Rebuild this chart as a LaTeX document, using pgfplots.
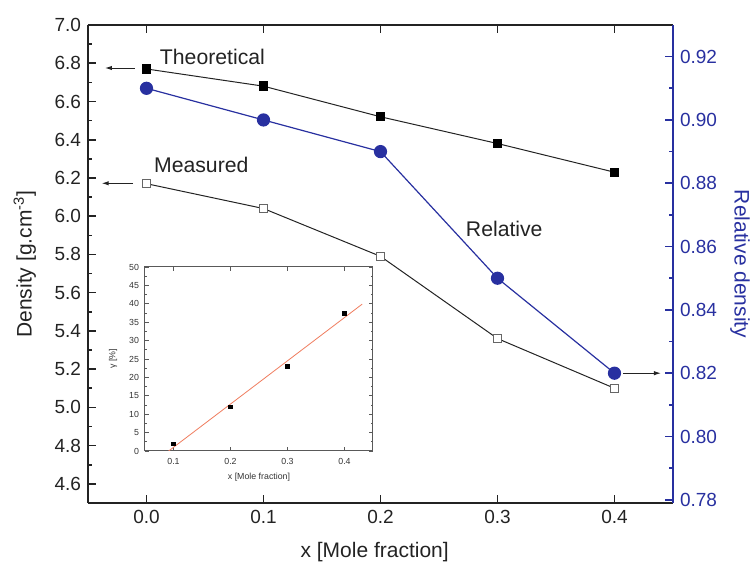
\documentclass[border=0pt]{standalone}
\usepackage{fontspec}
\setmainfont{Liberation Sans}
\usepackage{pgfplots}
\pgfplotsset{compat=1.18}
\usetikzlibrary{arrows.meta}
\definecolor{reldens}{RGB}{40,48,160}
\definecolor{fitred}{RGB}{240,125,95}
\definecolor{txt}{RGB}{35,35,35}

% Density of the series versus mole fraction x
\pgfplotstableread{
x     theo   meas
0.0   6.77   6.17
0.1   6.68   6.04
0.2   6.52   5.79
0.3   6.38   5.36
0.4   6.23   5.10
}\densitytable

\pgfplotstableread{
x     rel
0.0   0.910
0.1   0.900
0.2   0.890
0.3   0.850
0.4   0.820
}\relativetable

\pgfplotstableread{
x     gam
0.1   2.0
0.2   12.0
0.3   23.0
0.4   37.4
}\gammatable

\begin{document}
\begin{tikzpicture}[x=1pt,y=1pt]
\useasboundingbox (-44,-31) rectangle (331.5,251.5);

% ---- left axis: density ----
\begin{axis}[
  at={(0,0)}, anchor=south west,
  scale only axis, width=292.5pt, height=239pt,
  xmin=-0.05, xmax=0.45, ymin=4.5, ymax=7.0,
  axis y line*=left,
  xtick={0,0.1,0.2,0.3,0.4},
  ytick={4.6,4.8,5.0,5.2,5.4,5.6,5.8,6.0,6.2,6.4,6.6,6.8,7.0},
  minor y tick num=1,
  tick align=inside,
  major tick length=4pt, minor tick length=2.2pt,
  axis line style={line width=0.9pt, txt},
  every tick/.style={txt, line width=0.8pt},
  /pgf/number format/assume math mode=true,
  tick label style={font=\fontsize{9.5}{11}\selectfont, txt},
  xticklabel style={/pgf/number format/.cd, fixed, fixed zerofill, precision=1},
  yticklabel style={/pgf/number format/.cd, fixed, fixed zerofill, precision=1},
  xlabel={x [Mole fraction]},
  ylabel={Density [g.cm\textsuperscript{-3}]},
  label style={font=\fontsize{10.5}{12}\selectfont, txt},
  xlabel style={at={(axis description cs:0.49,-0.102)}, anchor=center},
  ylabel style={at={(axis description cs:-0.108,0.5)}, anchor=center},
  clip=false,
]
\addplot[txt, line width=0.5pt, mark=square*, mark size=2.1pt,
  mark options={fill=black, draw=black, solid}] table[x=x, y=theo] {\densitytable};
\addplot[txt, line width=0.5pt, mark=square*, mark size=2.1pt,
  mark options={fill=white, draw=gray!80!black, line width=0.5pt, solid}] table[x=x, y=meas] {\densitytable};

\node[anchor=west, font=\fontsize{10.6}{13}\selectfont, txt] at (axis cs:0.0055,6.835) {Theoretical};
\node[anchor=west, font=\fontsize{10.6}{13}\selectfont, txt] at (axis cs:0.0005,6.27) {Measured};
\node[anchor=west, font=\fontsize{10.6}{13}\selectfont, txt] at (axis cs:0.267,5.935) {Relative};

\draw[txt, line width=0.5pt, -{Latex[length=3.5pt,width=2.2pt]}] (axis cs:-0.010,6.775) -- (axis cs:-0.0355,6.775);
\draw[txt, line width=0.5pt, -{Latex[length=3.5pt,width=2.2pt]}] (axis cs:-0.0115,6.172) -- (axis cs:-0.0383,6.172);
\end{axis}

% ---- right axis: relative density ----
\begin{axis}[
  at={(0,0)}, anchor=south west,
  scale only axis, width=292.5pt, height=239pt,
  xmin=-0.05, xmax=0.45, ymin=0.779, ymax=0.930,
  axis x line=none,
  axis y line*=right,
  ytick={0.78,0.80,0.82,0.84,0.86,0.88,0.90,0.92},
  minor y tick num=1,
  tick align=inside,
  major tick length=4pt, minor tick length=2.2pt,
  y axis line style={line width=0.9pt, reldens},
  every tick/.style={reldens, line width=0.8pt},
  /pgf/number format/assume math mode=true,
  yticklabel style={font=\fontsize{9.5}{11}\selectfont, reldens,
    /pgf/number format/.cd, fixed, fixed zerofill, precision=2},
  ylabel={Relative density},
  ylabel style={font=\fontsize{10.5}{12}\selectfont, reldens,
    at={(axis description cs:1.1145,0.5)}, anchor=center, rotate=180},
  clip=false,
]
\addplot[reldens, line width=0.6pt, mark=*, mark size=3pt,
  mark options={fill=reldens, draw=reldens}] table[x=x, y=rel] {\relativetable};
\draw[txt, line width=0.5pt, -{Latex[length=3.5pt,width=2.2pt]}] (axis cs:0.4073,0.82) -- (axis cs:0.4397,0.82);
\end{axis}

% ---- inset: gamma versus x ----
\begin{axis}[
  at={(28.5pt,26pt)}, anchor=south west,
  scale only axis, width=114pt, height=92pt,
  xmin=0.05, xmax=0.45, ymin=0, ymax=50,
  xtick={0.1,0.2,0.3,0.4},
  ytick={0,5,10,15,20,25,30,35,40,45,50},
  minor y tick num=1,
  tick align=inside,
  major tick length=2pt, minor tick length=1.2pt,
  axis background/.style={fill=white},
  axis line style={line width=0.5pt, gray!70!black},
  every tick/.style={gray!70!black, line width=0.4pt},
  /pgf/number format/assume math mode=true,
  tick label style={font=\fontsize{4.4}{5}\selectfont, gray!40!black},
  xticklabel style={/pgf/number format/.cd, fixed, fixed zerofill, precision=1},
  yticklabel style={xshift=0.5pt},
  xlabel={x [Mole fraction]},
  ylabel={γ [\%]},
  label style={font=\fontsize{4.4}{5}\selectfont, gray!40!black},
  xlabel style={at={(axis description cs:0.5,-0.145)}, anchor=center},
  ylabel style={at={(axis description cs:-0.14,0.5)}, anchor=center},
]
\addplot[fitred, line width=0.4pt] coordinates {(0.0915,0) (0.431,39.9)};
\addplot[only marks, mark=square*, mark size=0.8pt,
  mark options={fill=black, draw=black}] table[x=x, y=gam] {\gammatable};
\end{axis}
\end{tikzpicture}
\end{document}
